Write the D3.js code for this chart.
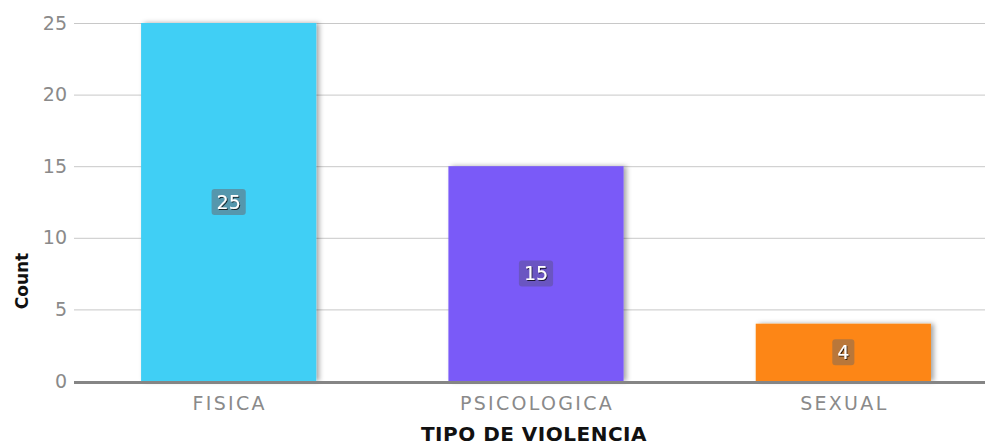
<!DOCTYPE html>
<html><head><meta charset="utf-8">
<script src="https://cdn.jsdelivr.net/npm/d3@7"></script>
<style>body{margin:0;background:#fff}svg{display:block}</style>
</head><body>
<svg id="c" width="985" height="445"></svg>
<script>
const categories = ["FISICA", "PSICOLOGICA", "SEXUAL"];
const counts = [25, 15, 4];
const colors = ["#3fcff5", "#7a5af8", "#fd8612"];
const labelBg = ["#5597ad", "#6a55c2", "#b9773a"];
const yTicks = [0, 5, 10, 15, 20, 25];
const xTitle = "TIPO DE VIOLENCIA";
const yTitle = "Count";

const svg = d3.select("#c");
const font = "'DejaVu Sans', Verdana, sans-serif";
const x = d3.scaleBand().domain(categories).range([75, 997]).paddingInner(0.43).paddingOuter(0.215);
const y = d3.scaleLinear().domain([0, 25]).range([381, 23]);

const defs = svg.append("defs");
const f = defs.append("filter").attr("id", "sh").attr("x", "-10%").attr("y", "-10%").attr("width", "130%").attr("height", "130%");
f.append("feDropShadow").attr("dx", 3).attr("dy", 0).attr("stdDeviation", 2.5).attr("flood-color", "#000").attr("flood-opacity", 0.35);
const tf = defs.append("filter").attr("id", "tsh");
tf.append("feDropShadow").attr("dx", 1).attr("dy", 1).attr("stdDeviation", 0.6).attr("flood-color", "#000").attr("flood-opacity", 0.75);

// grid + y tick labels
const gy = svg.append("g").attr("transform", "translate(74,0)")
  .call(d3.axisLeft(y).tickValues(yTicks).tickSize(0).tickPadding(7));
gy.select(".domain").remove();
gy.selectAll(".tick line").attr("x1", 0).attr("x2", 911).attr("stroke", "#c8c8c8").attr("stroke-width", 1);
gy.selectAll(".tick text").attr("fill", "#8a8a8a").attr("font-size", 19).attr("font-family", font);

// bars
svg.append("g").selectAll("rect").data(categories).join("rect")
  .attr("x", d => x(d)).attr("width", x.bandwidth())
  .attr("y", (d, i) => y(counts[i])).attr("height", (d, i) => y(0) - y(counts[i]))
  .attr("fill", (d, i) => colors[i]).attr("filter", "url(#sh)");

// baseline
svg.append("line").attr("x1", 74).attr("x2", 985).attr("y1", y(0) + 1.5).attr("y2", y(0) + 1.5)
  .attr("stroke", "#858585").attr("stroke-width", 3);

// value labels
const lg = svg.append("g").selectAll("g").data(categories).join("g")
  .attr("transform", (d, i) => `translate(${x(d) + x.bandwidth() / 2},${(y(counts[i]) + y(0)) / 2})`);
const vt = lg.append("text").attr("text-anchor", "middle").attr("dy", "0.36em")
  .attr("fill", "#fff").attr("font-size", 19).attr("font-family", font)
  .attr("filter", "url(#tsh)")
  .text((d, i) => counts[i]);
lg.insert("rect", "text").each(function(d, i) {
  const w = vt.nodes()[i].getComputedTextLength();
  d3.select(this).attr("x", -w / 2 - 5).attr("width", w + 10)
    .attr("y", -13).attr("height", 26).attr("rx", 3)
    .attr("fill", labelBg[i]);
});

// category labels
svg.append("g").selectAll("text").data(categories).join("text")
  .attr("x", d => x(d) + x.bandwidth() / 2 + 1).attr("y", 410)
  .attr("text-anchor", "middle").attr("fill", "#8a8a8a").attr("font-size", 19).attr("font-family", font)
  .attr("letter-spacing", 2.3)
  .text(d => d);

// axis titles
svg.append("text").attr("x", 534).attr("y", 441).attr("text-anchor", "middle")
  .attr("font-weight", "bold").attr("font-size", 20).attr("font-family", font).attr("fill", "#111")
  .attr("letter-spacing", 0.5)
  .text(xTitle);
svg.append("text").attr("transform", "translate(28,281) rotate(-90)").attr("text-anchor", "middle")
  .attr("font-weight", "bold").attr("font-size", 17).attr("font-family", font).attr("fill", "#111")
  .text(yTitle);
</script>
</body></html>
